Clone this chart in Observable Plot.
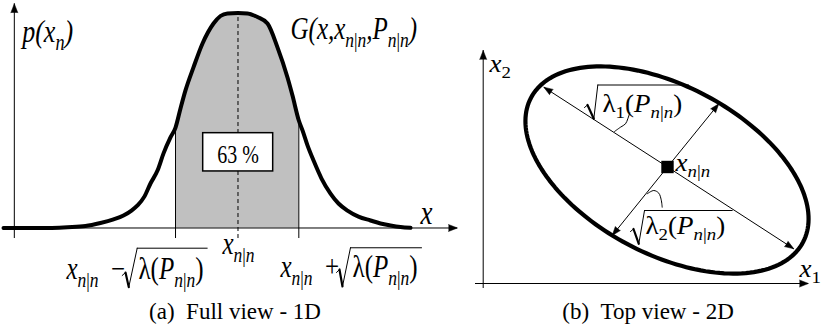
<!DOCTYPE html>
<html><head><meta charset="utf-8">
<script src="https://cdn.jsdelivr.net/npm/d3@7"></script>
<script src="https://cdn.jsdelivr.net/npm/@observablehq/plot@0.6"></script>
<style>
body{margin:0;background:#fff;}
#fig{position:relative;width:822px;height:333px;overflow:hidden;font-family:"Liberation Serif","Times New Roman",serif;background:#fff;}
.panel{position:absolute;top:0;}
.cap{position:absolute;top:300px;width:300px;text-align:center;font-size:23px;line-height:23px;white-space:pre;color:#000;}
</style></head><body>
<div id="fig">
  <div id="pa" class="panel" style="left:0;width:460px"></div>
  <div id="pb" class="panel" style="left:460px;width:362px"></div>
  <div class="cap" style="left:85px">(a)&#8194;Full view - 1D</div>
  <div class="cap" style="left:498px">(b)&#8194;Top view - 2D</div>
</div>
<script>
// ================= DATA =================
// (a) 1-D Gaussian G(x, x_{n|n}, P_{n|n}).
// x: distance from the mean x_{n|n} in units of sqrt(λ(P_{n|n})); p: density relative to the peak
const curveX = [-3.813,-3.211,-2.772,-2.480,-2.236,-2.024,-1.862,-1.732,-1.634,-1.520,-1.423,-1.309,-1.211,-1.098,-1.016,-0.935,-0.854,-0.724,-0.577,-0.398,-0.285,-0.171,0,0.154,0.317,0.480,0.642,0.805,0.886,0.989,1.049,1.130,1.228,1.358,1.504,1.634,1.780,1.959,2.154,2.317,2.480,2.642,2.805];
const curveP = [0,0,0.004,0.009,0.023,0.040,0.058,0.081,0.105,0.147,0.207,0.267,0.347,0.421,0.467,0.556,0.640,0.747,0.858,0.951,0.986,0.998,1,0.998,0.981,0.951,0.840,0.700,0.616,0.500,0.454,0.384,0.314,0.230,0.160,0.114,0.081,0.053,0.035,0.021,0.012,0.005,0.001];
const bandBounds = [-1.016, 0.989];      // x_{n|n} ∓ sqrt(λ(P_{n|n}))
const bandShare = "63 %";

// (b) covariance ellipse in the (x1, x2) plane
const ellipseCenter = [18.38, 11.35];
const ellipseSemiAxes = [15.4, 8.4];
const ellipseTiltDeg = -28;
const estimatePoint = [18.43, 11.65];    // x_{n|n}
const axisEndX1 = [6.06, 31.06, 23.56, 12.90];
const axisEndX2 = [19.63, 3.47, 17.97, 4.80];

// ================= LAYOUT (annotation placement) =================
const frameA = {x: [-3.8618, 3.6179], y: [-0.3140, 1.0581], width: 460, height: 295};
const frameB = {x: [-2.27, 33.93], y: [-1.2, 28.3], width: 362, height: 295};

const axesA = {xFrom: -3.813, xTo: 3.569, yAt: -3.637, yTo: 1.043, tickBottom: -0.049};
const boxA = {x1: -0.566, x2: 0.572, y1: 0.263, y2: 0.441};
const axesB = {xFrom: -0.77, xTo: 32.53, yFrom: -0.5, yTo: 23.3};

const textA = [
  {text: "p(x_{n})", x: -3.509, y: 0.864, size: 26, style: "italic"},
  {text: "G(x,x_{n|n},P_{n|n})", x: 0.854, y: 0.880, size: 25, style: "italic"},
  {text: "x", x: 2.967, y: 0.0195, size: 27, style: "italic"},
  {text: "x_{n|n}\u2002\u2212", x: -2.789, y: -0.236, size: 25, style: "math"},
  {text: "λ(P_{n|n})", x: -1.618, y: -0.236, size: 25, style: "math"},
  {text: "x_{n|n}", x: -0.252, y: -0.121, size: 25, style: "math"},
  {text: "x_{n|n}\u2002+", x: 0.691, y: -0.230, size: 25, style: "math"},
  {text: "λ(P_{n|n})", x: 1.862, y: -0.230, size: 25, style: "math"}
];
const shareText = [{text: bandShare, x: 0, y: 0.303, size: 20, style: "upright"}];
const textB = [
  {text: "x_{2}", x: 0.63, y: 21.13, size: 27, style: "math"},
  {text: "x_{1}", x: 31.63, y: 0.63, size: 27, style: "math"},
  {text: "x_{n|n}", x: 19.23, y: 11.3, size: 27, style: "math"},
  {text: "λ_{1}(P_{n|n})", x: 11.93, y: 17.13, size: 27, style: "math"},
  {text: "λ_{2}(P_{n|n})", x: 16.23, y: 4.97, size: 27, style: "math"}
];
const radicalsA = [
  [[-1.883,-0.221],[-1.829,-0.207],[-1.776,-0.275],[-1.639,-0.094],[-0.501,-0.094]],
  [[1.602,-0.207],[1.650,-0.193],[1.699,-0.272],[1.829,-0.092],[2.984,-0.092]]
];
const radicalsB = [
  [[10.13,17.6],[10.43,17.85],[11.06,16.47],[11.46,19.85],[20.53,19.85]],
  [[14.73,5.2],[15.03,5.45],[15.56,3.97],[16.13,7.3],[24.9,7.3]]
];
const hooksB = [
  [[13.13,15.2],[13.73,15.63],[14.23,15.97],[14.46,16.47],[14.66,17.07]],
  [[16.4,8.97],[17.06,9.3],[17.56,9.03],[17.8,8.37],[17.9,7.63]]
];
const textScaleY = {a: 1.25, b: 0.9};

// ================= HELPERS =================
const NS = "http://www.w3.org/2000/svg";
const FONT = "Liberation Serif";
function radicalSegments(rads) {
  const w = [1, 2.2, 1, 1];
  return rads.flatMap(r => w.map((sw, i) => ({x1: r[i][0], y1: r[i][1], x2: r[i+1][0], y2: r[i+1][1], sw})));
}
function head(data, length, r) {
  return Plot.vector(data, {x: d => d.x, y: d => d.y, rotate: d => d.rot, length, r,
    shape: "spike", anchor: "end", fill: "black", stroke: "black", strokeWidth: 0.5});
}
function labels(data, anchor) {
  return Plot.text(data, {x: "x", y: "y", text: "text", fontSize: "size", fontFamily: FONT,
    textAnchor: anchor, lineAnchor: "bottom", fill: "black"});
}
function typeset(svg, specs, sy) {
  const byText = new Map(specs.map(s => [s.text, s]));
  for (const t of svg.querySelectorAll("text")) {
    const s = byText.get(t.textContent);
    if (!s) continue;
    const F = s.size, shift = F * 0.25, subSize = F * 0.7;
    const parts = s.text.split(/_\{([^}]*)\}/);
    t.textContent = "";
    let off = 0;
    parts.forEach((str, k) => {
      if (!str) return;
      const sub = k % 2 === 1;
      const groups = [];
      for (const ch of str) {
        const it = s.style === "italic" ? ch !== "|" : s.style === "math" ? /[A-Za-z]/.test(ch) : false;
        const last = groups[groups.length - 1];
        if (last && last.it === it) last.s += ch; else groups.push({s: ch, it});
      }
      for (const g of groups) {
        const ts = document.createElementNS(NS, "tspan");
        ts.textContent = g.s;
        ts.setAttribute("font-style", g.it ? "italic" : "normal");
        if (sub) ts.setAttribute("font-size", subSize);
        const target = sub ? shift : 0;
        if (target !== off) { ts.setAttribute("dy", target - off); off = target; }
        t.appendChild(ts);
      }
    });
    if (sy !== 1) {
      const tr = t.getAttribute("transform");
      if (tr) t.setAttribute("transform", tr + ` scale(1,${sy})`);
      else {
        const x = +(t.getAttribute("x") || 0), y = +(t.getAttribute("y") || 0);
        t.removeAttribute("x"); t.removeAttribute("y");
        t.setAttribute("transform", `translate(${x},${y}) scale(1,${sy})`);
      }
    }
  }
}

// ================= PANEL (a) =================
const curve = curveX.map((x, i) => ({x, p: curveP[i]}));
const band = curve.filter(d => d.x >= bandBounds[0] && d.x <= bandBounds[1]);
const pAt = x => curve.find(d => d.x === x).p;

const plotA = Plot.plot({
  width: frameA.width, height: frameA.height, margin: 0,
  x: {domain: frameA.x, axis: null}, y: {domain: frameA.y, axis: null},
  style: {background: "white", overflow: "visible"},
  marks: [
    Plot.areaY(band, {x: "x", y: "p", fill: "#c0c0c0", curve: "monotone-x"}),
    Plot.ruleX([0], {y1: axesA.tickBottom, y2: 1, stroke: "black", strokeWidth: 1, strokeDasharray: "4,3"}),
    Plot.ruleX(bandBounds, {x: d => d, y1: axesA.tickBottom, y2: d => pAt(d), stroke: "black", strokeWidth: 1}),
    Plot.ruleY([0], {x1: axesA.xFrom, x2: axesA.xTo, stroke: "black", strokeWidth: 1}),
    Plot.ruleX([axesA.yAt], {y1: axesA.tickBottom, y2: axesA.yTo, stroke: "black", strokeWidth: 1}),
    head([{x: axesA.xTo, y: 0, rot: 90}, {x: axesA.yAt, y: axesA.yTo, rot: 0}], 9, 3.5),
    Plot.rect([boxA], {x1: "x1", x2: "x2", y1: "y1", y2: "y2", fill: "white", stroke: "black", strokeWidth: 1.5}),
    Plot.line(curve, {x: "x", y: "p", stroke: "black", strokeWidth: 4, curve: "monotone-x"}),
    Plot.link(radicalSegments(radicalsA), {x1: "x1", y1: "y1", x2: "x2", y2: "y2", strokeWidth: "sw", stroke: "black", strokeLinecap: "round"}),
    labels(textA, "start"),
    labels(shareText, "middle")
  ]
});
typeset(plotA, [...textA, ...shareText], textScaleY.a);
document.getElementById("pa").appendChild(plotA);

// ================= PANEL (b) =================
const tiltR = ellipseTiltDeg * Math.PI / 180;
const ellipse = d3.range(0, 360, 2).map(deg => {
  const t = deg * Math.PI / 180;
  const u = ellipseSemiAxes[0] * Math.cos(t), v = ellipseSemiAxes[1] * Math.sin(t);
  return {x: ellipseCenter[0] + u * Math.cos(tiltR) - v * Math.sin(tiltR),
          y: ellipseCenter[1] + u * Math.sin(tiltR) + v * Math.cos(tiltR)};
});
const tips = axisEndX1.map((x, i) => {
  const y = axisEndX2[i];
  return {x, y, rot: Math.atan2(x - estimatePoint[0], y - estimatePoint[1]) * 180 / Math.PI};
});
const hooks = hooksB.flatMap((h, k) => h.map(p => ({x: p[0], y: p[1], k})));

const plotB = Plot.plot({
  width: frameB.width, height: frameB.height, margin: 0,
  x: {domain: frameB.x, axis: null}, y: {domain: frameB.y, axis: null},
  style: {background: "white", overflow: "visible"},
  marks: [
    Plot.ruleX([0], {y1: axesB.yFrom, y2: axesB.yTo, stroke: "black", strokeWidth: 1}),
    Plot.ruleY([0], {x1: axesB.xFrom, x2: axesB.xTo, stroke: "black", strokeWidth: 1}),
    head([{x: axesB.xTo, y: 0, rot: 90}, {x: 0, y: axesB.yTo, rot: 0}], 9, 3.5),
    Plot.line(ellipse, {x: "x", y: "y", stroke: "black", strokeWidth: 4.2, curve: "linear-closed"}),
    Plot.link(tips, {x1: () => estimatePoint[0], y1: () => estimatePoint[1], x2: "x", y2: "y", stroke: "black", strokeWidth: 1}),
    head(tips, 9, 3.2),
    Plot.dot([estimatePoint], {x: d => d[0], y: d => d[1], symbol: "square", r: 7, fill: "black", stroke: "none"}),
    Plot.line(hooks, {x: "x", y: "y", z: "k", stroke: "black", strokeWidth: 1, curve: "catmull-rom"}),
    Plot.link(radicalSegments(radicalsB), {x1: "x1", y1: "y1", x2: "x2", y2: "y2", strokeWidth: "sw", stroke: "black", strokeLinecap: "round"}),
    labels(textB, "start")
  ]
});
typeset(plotB, textB, textScaleY.b);
document.getElementById("pb").appendChild(plotB);
</script>
</body></html>
